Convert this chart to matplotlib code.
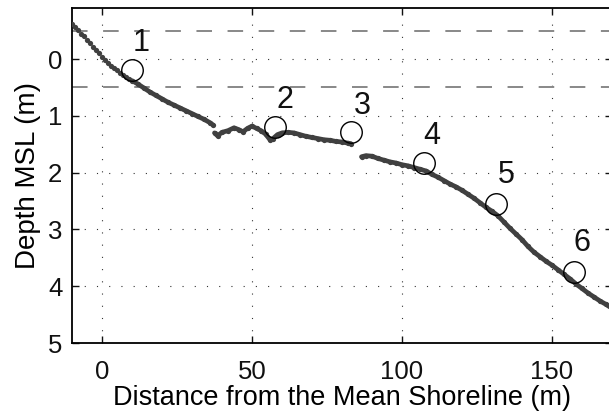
import numpy as np
import matplotlib.pyplot as plt

plt.rcParams['font.family'] = ['Liberation Sans', 'DejaVu Sans']

dist_a = [-10, -9, -8, -7, -6, -5, -4, -3, -2, -1, 0, 1, 2, 3, 4, 5, 6, 7, 8, 9, 10,
          12, 14, 16, 18, 20, 22, 24, 26, 28, 30, 32, 34, 36, 37]
depth_a = [-0.62, -0.56, -0.51, -0.45, -0.40, -0.34, -0.28, -0.22, -0.16, -0.10, -0.03,
           0.02, 0.07, 0.12, 0.16, 0.20, 0.24, 0.28, 0.31, 0.35, 0.38,
           0.44, 0.51, 0.58, 0.64, 0.70, 0.76, 0.81, 0.86, 0.91, 0.96, 1.01, 1.06, 1.12, 1.16]

dist_b = [37.5, 38.5, 40, 42, 44, 45.5, 47, 48.5, 50, 51.5, 53, 54.5, 56, 57, 58.5, 60,
          62, 64, 66, 68, 70, 72, 74, 76, 78, 80, 82, 83]
depth_b = [1.30, 1.35, 1.29, 1.26, 1.21, 1.24, 1.28, 1.22, 1.18, 1.22, 1.26, 1.32, 1.42,
           1.40, 1.33, 1.30, 1.29, 1.30, 1.33, 1.36, 1.38, 1.40, 1.42, 1.43, 1.45, 1.46,
           1.48, 1.49]

dist_c = [86.5, 88, 90, 92, 94, 96, 98, 100, 102, 104, 106, 108, 110, 112, 114, 116, 118,
          120, 122, 124, 126, 128, 130, 132, 134, 136, 138, 140, 142, 144, 146, 148, 150,
          152, 154, 156, 158, 160, 162, 164, 166, 168, 170]
depth_c = [1.72, 1.70, 1.71, 1.75, 1.78, 1.81, 1.83, 1.86, 1.88, 1.91, 1.94, 1.97, 2.03,
           2.08, 2.14, 2.20, 2.25, 2.31, 2.38, 2.45, 2.53, 2.61, 2.68, 2.76, 2.87, 2.98,
           3.08, 3.18, 3.30, 3.40, 3.48, 3.56, 3.63, 3.71, 3.79, 3.87, 3.96, 4.04, 4.12,
           4.19, 4.26, 4.32, 4.39]

# sensor locations and their labels
sens_x = [10, 57.7, 83, 107.3, 131.3, 157.3]
sens_y = [0.2, 1.2, 1.28, 1.83, 2.55, 3.75]
lab_x = [13.2, 61, 86.7, 110, 134.7, 160]
lab_y = [-0.28, 0.72, 0.83, 1.36, 2.04, 3.24]
labels = ['1', '2', '3', '4', '5', '6']

dashed_levels = [-0.5, 0.5]

fig = plt.figure(figsize=(6.09, 4.15), dpi=100)
ax = fig.add_axes([72/609, 72/415, 540/609, 335/415])

grey = '#404040'
for d, z in [(dist_a, depth_a), (dist_b, depth_b), (dist_c, depth_c)]:
    d = np.array(d); z = np.array(z)
    ax.plot(d, z, 'o', color=grey, ms=3.8, mew=0, zorder=3)
    m = d >= 10
    ax.plot(d[m], z[m], '-', color=grey, lw=3.4, zorder=3, solid_capstyle='round')

for lv in dashed_levels:
    ax.axhline(lv, color='#888888', lw=1.4, linestyle=(0, (8, 8)), zorder=2)

ax.plot(sens_x, sens_y, 'o', mfc='none', mec='black', ms=15.5, mew=1.0, zorder=4)
for x, y, t in zip(lab_x, lab_y, labels):
    ax.text(x, y, t, fontsize=22, ha='center', va='center', color='#111111')

ax.set_xlim(-10, 170)
ax.set_ylim(5, -0.9)
ax.set_xticks([0, 50, 100, 150])
ax.set_yticks([0, 1, 2, 3, 4, 5])
ax.grid(True, color='#333333', lw=0.8, linestyle=(0, (1, 10)))
ax.tick_params(direction='in', top=True, right=True, length=5, width=1,
               labelsize=18.5, colors='#111111')
ax.tick_params(axis='x', pad=12)
ax.tick_params(axis='y', pad=7)
for s in ax.spines.values():
    s.set_linewidth(1.3)

ax.set_xlabel('Distance from the Mean Shoreline (m)', fontsize=19.5, labelpad=1)
ax.set_ylabel('Depth MSL (m)', fontsize=20, labelpad=5)

fig.savefig('out.png', dpi=100)
